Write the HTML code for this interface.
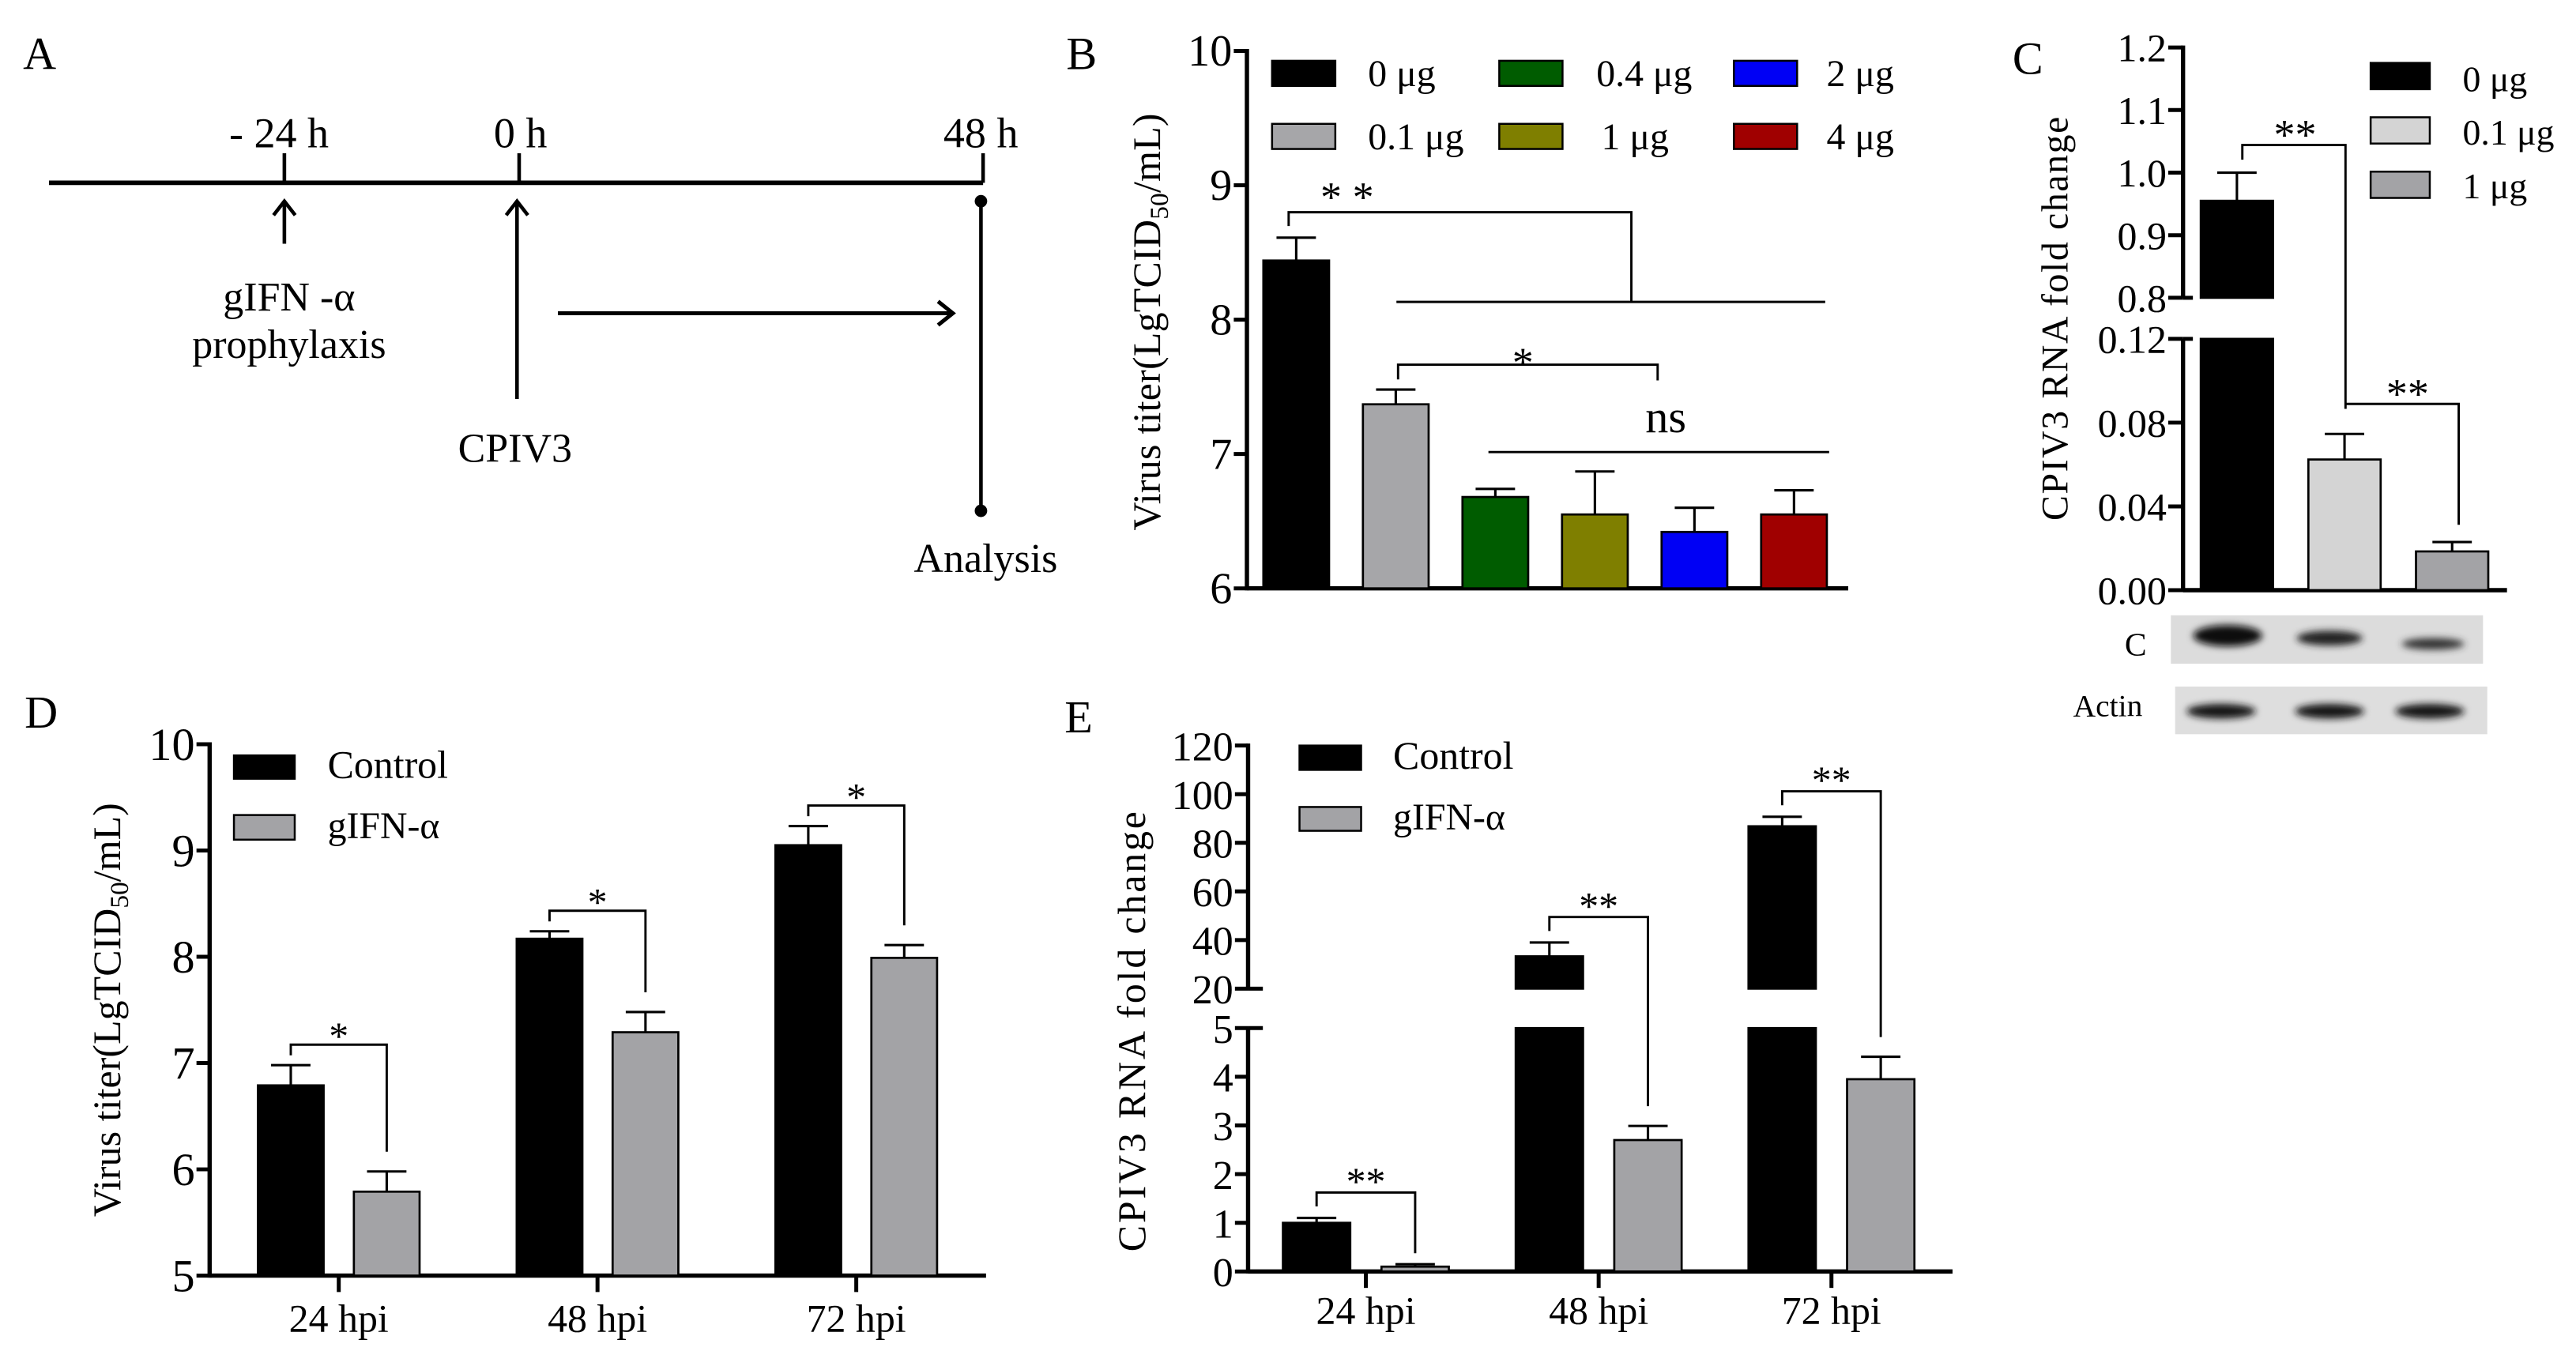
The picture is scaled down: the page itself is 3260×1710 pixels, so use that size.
<!DOCTYPE html>
<html><head><meta charset="utf-8"><style>
html,body{margin:0;padding:0;background:#fff;}
svg{display:block;}
text{font-family:"Liberation Serif","Times New Roman",serif;fill:#000;}
</style></head><body>
<svg id="fig" xmlns="http://www.w3.org/2000/svg" width="3260" height="1710" viewBox="0 0 1568 822.5" preserveAspectRatio="none">
<defs><filter id="blur" x="-30%" y="-100%" width="160%" height="300%"><feGaussianBlur stdDeviation="2.2"/></filter></defs>
<!-- Panel A -->
<g>
<text x="14" y="42" font-size="28">A</text>
<line x1="29.8" y1="111.3" x2="598.4" y2="111.3" stroke="#000" stroke-width="2.8"/>
<line x1="173.1" y1="93.3" x2="173.1" y2="111.3" stroke="#000" stroke-width="2.2"/>
<line x1="316" y1="93.3" x2="316" y2="111.3" stroke="#000" stroke-width="2.2"/>
<line x1="598.4" y1="93.3" x2="598.4" y2="111.3" stroke="#000" stroke-width="2.2"/>
<text x="169.8" y="89.7" font-size="26" text-anchor="middle">- 24 h</text>
<text x="316.8" y="89.7" font-size="26" text-anchor="middle">0 h</text>
<text x="597" y="89.7" font-size="26" text-anchor="middle">48 h</text>
<line x1="173.1" y1="148.4" x2="173.1" y2="123" stroke="#000" stroke-width="2.2"/>
<polyline points="166.5,131 173.1,122.5 179.7,131" fill="none" stroke="#000" stroke-width="2.2"/>
<line x1="314.7" y1="242.9" x2="314.7" y2="123" stroke="#000" stroke-width="2.2"/>
<polyline points="308.1,131 314.7,122.5 321.3,131" fill="none" stroke="#000" stroke-width="2.2"/>
<text x="176" y="189" font-size="25" text-anchor="middle">gIFN -α</text>
<text x="176" y="217.8" font-size="25" text-anchor="middle">prophylaxis</text>
<text x="313.5" y="281.2" font-size="25" text-anchor="middle">CPIV3</text>
<line x1="339.6" y1="190.7" x2="579" y2="190.7" stroke="#000" stroke-width="2.4"/>
<polyline points="571,183.5 580,190.7 571,197.9" fill="none" stroke="#000" stroke-width="2.4"/>
<line x1="597.1" y1="122.5" x2="597.1" y2="311" stroke="#000" stroke-width="2.2"/>
<circle cx="597.1" cy="122.5" r="3.8" fill="#000"/>
<circle cx="597.1" cy="311" r="3.8" fill="#000"/>
<text x="600" y="348.2" font-size="25" text-anchor="middle">Analysis</text>
</g>
<g id="pB"></g>
<g id="pC"></g>
<g id="pD"></g>
<g id="pE"></g>
</svg>
<script>
// ---- Panel B data ----
const bCategories = ["0 μg","0.1 μg","0.4 μg","1 μg","2 μg","4 μg"];
const bValues = [8.44, 7.37, 6.68, 6.55, 6.42, 6.55];
const bErrors = [0.17, 0.11, 0.06, 0.32, 0.18, 0.18];
const bColors = ["#000000","#a6a6a9","#005c00","#7f7f00","#0000f5","#a00000"];
const bTicks = [6,7,8,9,10];
// ---- Panel C data ----
const cCategories = ["0 μg","0.1 μg","1 μg"];
const cValues = [0.955, 0.0624, 0.0185];
const cErrors = [0.045, 0.0122, 0.0045];
const cColors = ["#000000","#d4d4d4","#a3a3a6"];
const cTicksUpper = [0.8,0.9,1.0,1.1,1.2];
const cTickLabelsUpper = ["0.8","0.9","1.0","1.1","1.2"];
const cTicksLower = [0,0.04,0.08,0.12];
const cTickLabelsLower = ["0.00","0.04","0.08","0.12"];
// ---- Panel D data ----
const dCategories = ["24 hpi","48 hpi","72 hpi"];
const dControl = [6.79, 8.17, 9.05];
const dControlErr = [0.19, 0.07, 0.18];
const dGifn = [5.79, 7.29, 7.99];
const dGifnErr = [0.19, 0.19, 0.12];
const dTicks = [5,6,7,8,9,10];
const dStars = ["*","*","*"];
// ---- Panel E data ----
const eCategories = ["24 hpi","48 hpi","72 hpi"];
const eControl = [1.0, 33.3, 86.8];
const eControlErr = [0.1, 5.7, 3.9];
const eGifn = [0.1, 2.7, 3.95];
const eGifnErr = [0.05, 0.29, 0.46];
const eTicksUpper = [20,40,60,80,100,120];
const eTicksLower = [0,1,2,3,4,5];
const eStars = ["**","**","**"];

const NS="http://www.w3.org/2000/svg";
function mk(parent, tag, attrs, name){
  const el=document.createElementNS(NS,tag);
  for(const k in attrs) el.setAttribute(k,attrs[k]);
  
  
  parent.appendChild(el);
  return el;
}
function ln(p,x1,y1,x2,y2,sw,name){return mk(p,'line',{x1:x1,y1:y1,x2:x2,y2:y2,stroke:'#000','stroke-width':sw},name);}
function tx(p,x,y,s,fs,anchor,name,extra){
  const t=mk(p,'text',Object.assign({x:x,y:y,'font-size':fs,'text-anchor':anchor||'start'},extra||{}),name);
  t.textContent=s; return t;
}
function bar(p,x,w,yTop,yBot,fill,name){
  return mk(p,'rect',{x:x,y:yTop,width:w,height:Math.max(0,yBot-yTop),fill:fill,stroke:'#000','stroke-width':1.3},name);
}
function errbar(p,cx,y1,y2,half,name){
  const g=mk(p,'g',{},name);
  ln(g,cx,y1,cx,y2,1.5,name+'-stem');
  ln(g,cx-half,y2,cx+half,y2,1.5,name+'-cap');
}
function star(p,cx,cy,s,fs,name){return tx(p,cx,cy+0.49*fs,s,fs,'middle',name);}
function bracket(p,pts,name){
  return mk(p,'polyline',{points:pts.map(q=>q.join(',')).join(' '),fill:'none',stroke:'#000','stroke-width':1.4},name);
}

// ================= Panel B =================
(function(){
  const g=document.getElementById('pB');
  const ax=759, y0=358.2, unit=81.8, xEnd=1125;
  const yB=v=>y0-(v-6)*unit;
  const xB=i=>789+i*60.6;
  const w=40;
  tx(g,649,42,'B',28,'start','panel-b-label');
  bTicks.forEach((t,i)=>{
    ln(g,ax-8,yB(t),ax,yB(t),2.4,'b-ytick-'+t);
    tx(g,ax-9,yB(t)+9,String(t),27,'end','b-ytick-label-'+t);
  });
  ln(g,ax,yB(10)-1.2,ax,y0+1.2,2.6,'b-y-axis');
  ln(g,ax,y0,xEnd,y0,2.6,'b-x-axis');
  const yl=tx(g,0,0,'',24,'middle','b-y-axis-title',{transform:'translate(706,196) rotate(-90)'});
  yl.appendChild(document.createTextNode('Virus titer(LgTCID'));
  const sub=mk(yl,'tspan',{'font-size':16,dy:5},'b-y-axis-title-subscript'); sub.textContent='50';
  const rest=mk(yl,'tspan',{dy:-5},'b-y-axis-title-rest'); rest.textContent='/mL)';
  yl.setAttribute('textLength','254');
  bValues.forEach((v,i)=>{
    errbar(g,xB(i),yB(v),yB(v+bErrors[i]),12,'b-error-'+i);
    bar(g,xB(i)-w/2,w,yB(v),y0,bColors[i],'bar-b-'+i);
  });
  const lx=[774.3,912.6,1055.4], ly=[37,75.4], tX=[832.7,971.7,1111.8];
  bCategories.forEach((c,i)=>{
    const col=Math.floor(i/2), row=i%2;
    mk(g,'rect',{x:lx[col],y:ly[row],width:38.5,height:15.3,fill:bColors[i],stroke:'#000','stroke-width':1.2},'b-legend-swatch-'+i);
    tx(g,tX[col]+(i===3?3:0),ly[row]+15.5,c,23,'start','b-legend-label-'+i);
  });
  bracket(g,[[784.4,137.6],[784.4,129.2],[993,129.2],[993,183.8]],'b-bracket-double-star');
  ln(g,850,183.8,1111,183.8,1.4,'b-group-line');
  star(g,820,116,'* *',26,'b-star-double');
  bracket(g,[[851,231],[851,222],[1009,222],[1009,231.6]],'b-bracket-star');
  star(g,927,216.6,'*',26,'b-star-single');
  ln(g,906,275.2,1113.4,275.2,1.4,'b-ns-line');
  tx(g,1014,263,'ns',28,'middle','b-ns-label');
})();

// ================= Panel C =================
(function(){
  const g=document.getElementById('pC');
  const ax=1328.8, y0=359.3, xEnd=1526;
  const yU=v=>105.1-(v-1.0)*381;
  const yL=v=>y0-v*1275;
  const uMin=0.8, lMax=0.12;
  const xC=i=>1361.6+i*65.5;
  const w=44;
  tx(g,1225,45,'C',28,'start','panel-c-label');
  cTicksUpper.forEach((t,i)=>{
    ln(g,ax-9,yU(t),ax,yU(t),2.4,'c-ytick-upper-'+i);
    tx(g,ax-10,yU(t)+8.5,cTickLabelsUpper[i],24,'end','c-ytick-label-upper-'+i);
  });
  ln(g,ax,yU(uMin),ax+6,yU(uMin),2.4,'c-break-tick-upper');
  cTicksLower.forEach((t,i)=>{
    ln(g,ax-9,yL(t),ax,yL(t),2.4,'c-ytick-lower-'+i);
    tx(g,ax-10,yL(t)+8.5,cTickLabelsLower[i],24,'end','c-ytick-label-lower-'+i);
  });
  ln(g,ax,yL(lMax),ax+6,yL(lMax),2.4,'c-break-tick-lower');
  ln(g,ax,yU(1.2)-1.2,ax,yU(uMin),2.6,'c-y-axis-upper');
  ln(g,ax,yL(lMax),ax,y0+1.2,2.6,'c-y-axis-lower');
  ln(g,ax,y0,xEnd,y0,2.6,'c-x-axis');
  tx(g,0,0,'CPIV3 RNA fold change',23,'middle','c-y-axis-title',{transform:'translate(1258.5,194) rotate(-90)',textLength:'246'});
  cValues.forEach((v,i)=>{
    const cx=xC(i);
    if(v>uMin){
      const top=v+cErrors[i];
      errbar(g,cx,yU(v),yU(top),12,'c-error-'+i);
      bar(g,cx-w/2,w,yU(v),yU(uMin),cColors[i],'bar-c-'+i+'-upper');
      bar(g,cx-w/2,w,yL(lMax),y0,cColors[i],'bar-c-'+i+'-lower');
    } else {
      errbar(g,cx,yL(v),yL(v+cErrors[i]),12,'c-error-'+i);
      bar(g,cx-w/2,w,yL(v),y0,cColors[i],'bar-c-'+i);
    }
    mk(g,'rect',{x:1443,y:38.3+i*33.1,width:36,height:16,fill:cColors[i],stroke:'#000','stroke-width':1.2},'c-legend-swatch-'+i);
    tx(g,1499,55.5+i*32.6,cCategories[i],22,'start','c-legend-label-'+i);
  });
  bracket(g,[[1364.9,97.2],[1364.9,88.3],[1427.7,88.3],[1427.7,248.9]],'c-bracket-1');
  star(g,1397,78,'**',26,'c-star-1');
  bracket(g,[[1427.7,245.9],[1496.6,245.9],[1496.6,319.5]],'c-bracket-2');
  star(g,1465.5,235.6,'**',26,'c-star-2');
  const wb=mk(g,'g',{},'western-blot');
  mk(wb,'rect',{x:1321.4,y:374.6,width:190,height:29.5,fill:'#dcdcdc'},'blot-c-strip');
  mk(wb,'rect',{x:1324,y:418,width:190,height:29,fill:'#dedede'},'blot-actin-strip');
  const cb=[[1356,387,21,6.5,'#0a0a0a'],[1418,388.5,20,4.5,'#202020'],[1481,392,19,3.5,'#303030']];
  cb.forEach((b,i)=>mk(wb,'ellipse',{cx:b[0],cy:b[1],rx:b[2],ry:b[3],fill:b[4],filter:'url(#blur)'},'blot-c-band-'+i));
  [1352,1418,1479].forEach((x,i)=>mk(wb,'ellipse',{cx:x,cy:433,rx:21,ry:4.5,fill:'#151515',filter:'url(#blur)'},'blot-actin-band-'+i));
  tx(wb,1300,399,'C',20,'middle','blot-c-label');
  tx(wb,1283,436,'Actin',19,'middle','blot-actin-label');
})();

// ================= Panel D =================
(function(){
  const g=document.getElementById('pD');
  const ax=127.6, y0=776.6, unit=64.7, xEnd=600.2;
  const yD=v=>y0-(v-5)*unit;
  const xT=i=>206.2+i*157.5;
  const off=29.2, w=40;
  tx(g,15,443,'D',28,'start','panel-d-label');
  dTicks.forEach(t=>{
    ln(g,ax-8,yD(t),ax,yD(t),2.4,'d-ytick-'+t);
    tx(g,ax-9,yD(t)+9.5,String(t),28,'end','d-ytick-label-'+t);
  });
  ln(g,ax,yD(10)-1.2,ax,y0+1.2,2.6,'d-y-axis');
  ln(g,ax,y0,xEnd,y0,2.6,'d-x-axis');
  const yl=tx(g,0,0,'',24,'middle','d-y-axis-title',{transform:'translate(73,614.8) rotate(-90)'});
  yl.appendChild(document.createTextNode('Virus titer(LgTCID'));
  const sub=mk(yl,'tspan',{'font-size':16,dy:5},'d-y-axis-title-subscript'); sub.textContent='50';
  const rest=mk(yl,'tspan',{dy:-5},'d-y-axis-title-rest'); rest.textContent='/mL)';
  yl.setAttribute('textLength','252');
  dCategories.forEach((c,i)=>{
    const cx=xT(i);
    ln(g,cx,y0,cx,y0+10,2.4,'d-xtick-'+i);
    tx(g,cx,810.7,c,24,'middle','d-xtick-label-'+i);
    errbar(g,cx-off,yD(dControl[i]),yD(dControl[i]+dControlErr[i]),12,'d-error-control-'+i);
    bar(g,cx-off-w/2,w,yD(dControl[i]),y0,'#000','bar-d-control-'+i);
    errbar(g,cx+off,yD(dGifn[i]),yD(dGifn[i]+dGifnErr[i]),12,'d-error-gifn-'+i);
    bar(g,cx+off-w/2,w,yD(dGifn[i]),y0,'#a3a3a6','bar-d-gifn-'+i);
    const top=Math.max(dControl[i]+dControlErr[i],dGifn[i]+dGifnErr[i]);
    const yb=yD(top)-12.5;
    bracket(g,[[cx-off,yD(dControl[i]+dControlErr[i])-6],[cx-off,yb],[cx+off,yb],[cx+off,yD(dGifn[i]+dGifnErr[i])-12]],'d-bracket-'+i);
    star(g,cx,yb-9,dStars[i],24,'d-star-'+i);
  });
  mk(g,'rect',{x:142.4,y:459.9,width:37,height:14.2,fill:'#000',stroke:'#000','stroke-width':1.2},'d-legend-swatch-control');
  mk(g,'rect',{x:142.4,y:496.2,width:37,height:15,fill:'#a3a3a6',stroke:'#000','stroke-width':1.2},'d-legend-swatch-gifn');
  tx(g,199.4,473.6,'Control',24,'start','d-legend-label-control');
  tx(g,199.4,510.4,'gIFN-α',23,'start','d-legend-label-gifn');
})();

// ================= Panel E =================
(function(){
  const g=document.getElementById('pE');
  const ax=759.7, y0=774.1, xEnd=1188.5;
  const yU=v=>601.9-(v-20)*1.48;
  const yL=v=>y0-v*29.64;
  const uMin=20, lMax=5;
  const xT=i=>831.4+i*141.7;
  const off=30, w=41;
  tx(g,648,446,'E',28,'start','panel-e-label');
  eTicksUpper.forEach(t=>{
    ln(g,ax-8,yU(t),ax,yU(t),2.4,'e-ytick-upper-'+t);
    tx(g,ax-9,yU(t)+9,String(t),25,'end','e-ytick-label-upper-'+t);
  });
  ln(g,ax,yU(uMin),ax+9,yU(uMin),2.4,'e-break-tick-upper');
  eTicksLower.forEach(t=>{
    ln(g,ax-8,yL(t),ax,yL(t),2.4,'e-ytick-lower-'+t);
    tx(g,ax-9,yL(t)+9,String(t),25,'end','e-ytick-label-lower-'+t);
  });
  ln(g,ax,yL(lMax),ax+9,yL(lMax),2.4,'e-break-tick-lower');
  ln(g,ax,yU(120)-1.2,ax,yU(uMin),2.6,'e-y-axis-upper');
  ln(g,ax,yL(lMax),ax,y0+1.2,2.6,'e-y-axis-lower');
  ln(g,ax,y0,xEnd,y0,2.6,'e-x-axis');
  tx(g,0,0,'CPIV3 RNA fold change',24,'middle','e-y-axis-title',{transform:'translate(697,628) rotate(-90)',textLength:'268'});
  const yv=v=>v>lMax?yU(v):yL(v);
  function drawBar(cx,v,e,fill,name){
    errbar(g,cx,yv(v),yv(v+e),12,name.replace('bar','err'));
    if(v>lMax){
      bar(g,cx-w/2,w,yU(v),yU(uMin),fill,name+'-upper');
      bar(g,cx-w/2,w,yL(lMax),y0,fill,name+'-lower');
    } else bar(g,cx-w/2,w,yL(v),y0,fill,name);
  }
  eCategories.forEach((c,i)=>{
    const cx=xT(i);
    ln(g,cx,y0,cx,y0+10,2.4,'e-xtick-'+i);
    tx(g,cx,806,c,24,'middle','e-xtick-label-'+i);
    drawBar(cx-off,eControl[i],eControlErr[i],'#000','bar-e-control-'+i);
    drawBar(cx+off,eGifn[i],eGifnErr[i],'#a3a3a6','bar-e-gifn-'+i);
    const yc=yv(eControl[i]+eControlErr[i]);
    const yb=yc-15.5;
    const yr=yv(eGifn[i]+eGifnErr[i])-12;
    bracket(g,[[cx-off,yc-7],[cx-off,yb],[cx+off,yb],[cx+off,i===0?yb+37:yr]],'e-bracket-'+i);
    star(g,cx,yb-10.5,eStars[i],24,'e-star-'+i);
  });
  mk(g,'rect',{x:791,y:453.9,width:37.5,height:14.8,fill:'#000',stroke:'#000','stroke-width':1.2},'e-legend-swatch-control');
  mk(g,'rect',{x:791,y:491.3,width:37.5,height:14.5,fill:'#a3a3a6',stroke:'#000','stroke-width':1.2},'e-legend-swatch-gifn');
  tx(g,848,468,'Control',24,'start','e-legend-label-control');
  tx(g,848,505,'gIFN-α',23,'start','e-legend-label-gifn');
})();
</script>
</body></html>
